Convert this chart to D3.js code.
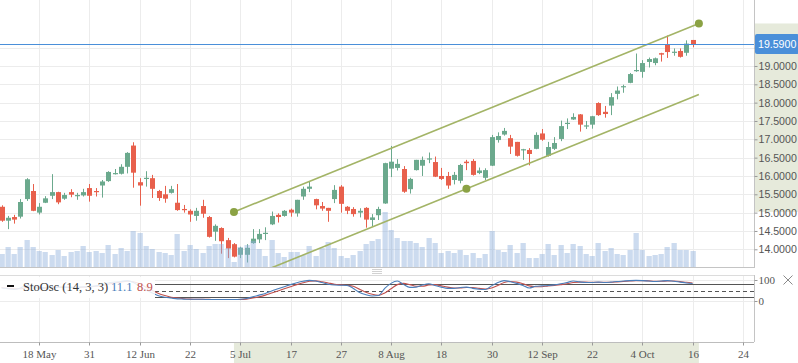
<!DOCTYPE html>
<html>
<head>
<meta charset="utf-8">
<script src="https://cdnjs.cloudflare.com/ajax/libs/d3/7.8.5/d3.min.js"></script>
<style>
  html, body { margin: 0; padding: 0; background: #fff; overflow: hidden; }
  .axis text { fill: #555; }
  .axis line { stroke: #999; }
</style>
</head>
<body>
<svg id="chart" width="798" height="363"></svg>
<script>
// OHLC per trading day (index 0 = first visible bar)
const opens  = [15.16,14.78,14.88,14.89,15.37,15.59,15.00,15.27,15.46,15.56,15.38,15.56,15.45,15.47,15.67,15.59,15.74,15.86,16.05,16.06,
                16.25,16.83,15.83,15.93,15.94,15.59,15.50,15.54,15.27,15.10,15.05,14.91,15.18,14.88,14.48,14.58,14.25,14.14,13.85,13.85,
                14.17,14.27,14.43,14.68,14.94,14.91,15.08,14.98,15.44,15.65,15.37,15.18,15.13,15.37,15.71,15.16,15.10,15.00,15.13,14.80,
                14.93,15.25,16.20,16.22,16.19,15.64,16.16,16.28,16.46,16.38,16.00,16.00,15.89,15.87,16.39,16.41,16.08,15.95,16.28,16.98,
                17.13,17.03,16.93,16.71,16.71,16.74,17.16,16.55,16.74,17.01,17.43,17.54,17.68,17.36,17.40,17.99,17.75,17.92,18.24,18.44,
                18.54,18.86,18.84,19.11,19.08,19.35,19.60,19.36,19.41,19.36,19.71];
const highs  = [15.20,14.91,14.94,15.37,15.94,15.78,15.26,15.45,16.05,15.57,15.54,15.64,15.54,15.65,15.78,15.67,15.89,16.13,16.19,16.32,
                16.65,16.92,15.94,16.13,16.03,15.62,15.73,15.73,15.78,15.21,15.09,15.13,15.35,14.91,14.68,14.60,14.31,14.17,14.07,14.14,
                14.55,14.55,14.60,15.03,14.98,15.07,15.11,15.35,15.71,15.85,15.38,15.29,15.13,15.75,15.75,15.18,15.15,15.12,15.15,14.96,
                15.16,16.36,16.82,16.46,16.27,15.95,16.44,16.53,16.64,16.53,16.22,16.11,16.11,16.33,16.44,16.46,16.23,16.21,17.12,17.19,
                17.31,17.12,16.93,16.74,16.76,17.19,17.28,16.93,17.06,17.51,17.57,17.71,17.69,17.50,17.64,18.01,17.91,18.26,18.44,18.49,
                18.81,19.34,19.16,19.23,19.23,19.36,19.83,19.48,19.48,19.70,19.71];
const lows   = [14.75,14.55,14.70,14.84,15.32,15.04,14.95,15.26,15.37,15.23,15.35,15.42,15.35,15.44,15.30,15.44,15.41,15.84,16.04,16.04,
                16.07,15.68,15.19,15.71,15.40,15.32,15.27,15.52,15.05,15.00,14.75,14.78,14.86,14.32,14.23,13.88,13.76,13.78,13.76,13.64,
                14.15,14.17,14.25,14.66,14.73,14.89,14.89,14.89,15.35,15.56,15.09,15.05,14.75,15.26,15.00,14.96,14.89,14.87,14.59,14.63,
                14.80,15.24,15.97,16.15,15.54,15.52,16.15,16.00,16.35,15.97,15.89,15.65,15.77,15.80,16.16,16.01,16.05,15.89,16.27,16.91,
                17.10,16.60,16.53,16.44,16.29,16.73,16.96,16.53,16.71,16.95,17.28,17.53,17.21,17.28,17.29,17.64,17.59,17.66,18.09,18.27,
                18.53,18.84,18.68,18.96,19.02,19.12,19.22,19.28,19.23,19.28,19.51];
const closes = [14.78,14.86,14.81,15.29,15.91,15.05,15.16,15.39,15.56,15.28,15.48,15.49,15.48,15.56,15.46,15.57,15.85,16.11,16.08,16.25,
                16.63,16.09,15.74,15.95,15.65,15.40,15.38,15.64,15.07,15.08,14.95,15.05,14.97,14.34,14.64,14.22,14.02,13.80,14.04,14.04,
                14.29,14.42,14.45,14.91,14.88,15.05,15.00,15.35,15.65,15.71,15.20,15.11,15.05,15.62,15.24,15.05,14.96,15.05,14.81,14.87,
                15.10,16.35,16.39,16.33,15.57,15.92,16.44,16.44,16.48,15.98,15.92,15.74,16.03,16.30,16.35,16.03,16.15,16.16,17.06,17.09,
                17.23,16.80,16.55,16.73,16.60,17.12,16.99,16.79,16.90,17.36,17.45,17.61,17.40,17.38,17.63,17.66,17.69,18.15,18.33,18.45,
                18.78,18.89,19.08,19.19,19.21,19.31,19.38,19.39,19.25,19.61,19.59];
// volume, thousands
const volumes = [13,20,13,20,27,20,16,15,12,17,11,15,16,21,15,16,14,22,13,19,
                 16,36,34,21,18,15,14,12,33,16,22,18,14,21,23,23,19,5,20,22,
                 26,18,11,27,14,10,15,15,12,21,11,19,25,19,11,9,12,16,23,26,
                 28,55,37,29,26,26,24,20,29,24,14,16,14,17,12,14,9,13,36,17,
                 15,22,14,24,9,9,13,23,12,22,14,23,21,13,11,24,16,19,13,12,
                 17,34,17,11,12,13,20,24,17,17,16];

// StoOsc (14, 3, 3)
const stochK = [62,58,55,62,75,70,60,62,68,65,66,64,65,68,70,72,78,86,90,93,
                97,88,68,52,38,25,18,14,10,9,8,8,8,7,7,7,7,7,8,12,
                20,28,36,48,58,68,78,87,94,98,95,88,80,76,75,74,60,40,30,24,
                26,60,84,95,78,65,66,76,82,74,66,60,60,64,66,60,56,55,72,88,
                97,92,84,74,62,70,72,74,77,82,88,95,91,88,88,90,88,90,93,95,
                97,98,97,95,93,95,97,94,90,86,83];
const stochD = [64,60,58,58,66,70,66,62,64,66,66,65,65,66,68,70,74,80,86,90,
                94,92,82,66,50,36,26,18,14,11,9,8,8,8,7,7,7,7,7,9,
                14,20,28,38,48,58,68,78,87,94,96,92,86,80,77,75,70,56,42,32,
                27,38,58,78,84,78,70,70,76,78,72,66,62,62,64,64,60,57,62,74,
                88,93,90,82,72,68,68,72,74,78,82,88,90,90,89,89,89,89,91,93,
                95,97,97,96,94,94,95,95,93,89,86];
const oscLevels = [80, 50, 20];

// axis labels
const dateTicks  = [6, 14, 22, 30, 38, 46, 54, 62, 70, 78, 86, 94, 102, 110, 118];
const dateLabels = ['18 May', '31', '12 Jun', '22', '5 Jul', '17', '27', '8 Aug', '18', '30', '12 Sep', '22', '4 Oct', '16', '24'];
const priceTicks = [14, 14.5, 15, 15.5, 16, 16.5, 17, 17.5, 18, 18.5, 19, 19.5];
const lastPrice = 19.59;

// parallel channel anchors: [bar index, price]
const channelPoints = [[37, 15.02], [111, 20.16], [74, 15.65]];

const UP_COLOR = '#6ba98d';
const DOWN_COLOR = '#e8604c';
const CHANNEL_COLOR = '#a3b466';
const BAND_COLOR = '#e6eadb';

const W = 798, H = 363;
const PLOT_R = 754;
const MAIN_B = 268;
const OSC_T = 275, OSC_B = 342;

const svg = d3.select('#chart');

const x = d3.scaleLinear().domain([0, 110]).range([1.5, 692.6]);
const y = d3.scaleLinear().domain([13.49, 20.8]).range([MAIN_B, 0]);
const yVol = d3.scaleLinear().domain([0, 55]).range([267, 212]);
const yOsc = d3.scaleLinear().domain([0, 100]).range([301, 280]);

const defs = svg.append('defs');
defs.append('clipPath').attr('id', 'clipMain')
  .append('rect').attr('x', 0).attr('y', 0).attr('width', PLOT_R).attr('height', MAIN_B);
defs.append('clipPath').attr('id', 'clipOsc')
  .append('rect').attr('x', 0).attr('y', OSC_T).attr('width', PLOT_R).attr('height', OSC_B - OSC_T);

// highlight bands for the selected drawing
const chPrices = channelPoints.map((d) => d[1]);
const chIdx = channelPoints.map((d) => d[0]);
svg.append('rect')
  .attr('x', PLOT_R + 1).attr('y', y(d3.max(chPrices)))
  .attr('width', W - PLOT_R - 1).attr('height', y(d3.min(chPrices)) - y(d3.max(chPrices)))
  .attr('fill', BAND_COLOR);
svg.append('rect')
  .attr('x', x(d3.min(chIdx))).attr('y', OSC_B + 1)
  .attr('width', x(d3.max(chIdx)) - x(d3.min(chIdx))).attr('height', H - OSC_B - 1)
  .attr('fill', BAND_COLOR);

// grid
const grid = svg.append('g').attr('stroke', '#ececec').attr('stroke-width', 1);
dateTicks.forEach((t) => {
  const gx = Math.round(x(t)) + 0.5;
  grid.append('line').attr('x1', gx).attr('x2', gx).attr('y1', 0).attr('y2', MAIN_B);
  grid.append('line').attr('x1', gx).attr('x2', gx).attr('y1', OSC_T).attr('y2', OSC_B);
});
priceTicks.forEach((p) => {
  const gy = Math.round(y(p)) + 0.5;
  grid.append('line').attr('x1', 0).attr('x2', PLOT_R).attr('y1', gy).attr('y2', gy);
});
[0, 100].forEach((v) => {
  const gy = Math.round(yOsc(v)) + 0.5;
  grid.append('line').attr('x1', 0).attr('x2', PLOT_R).attr('y1', gy).attr('y2', gy);
});

// candles
const bars = d3.range(opens.length).map((i) => ({
  i, o: opens[i], h: highs[i], l: lows[i], c: closes[i], v: volumes[i]
}));
const main = svg.append('g').attr('clip-path', 'url(#clipMain)');
const candle = main.append('g').selectAll('g').data(bars).join('g')
  .attr('fill', (d) => (d.c >= d.o ? UP_COLOR : DOWN_COLOR))
  .attr('stroke', (d) => (d.c >= d.o ? UP_COLOR : DOWN_COLOR));
candle.append('line')
  .attr('x1', (d) => Math.round(x(d.i)) + 0.5).attr('x2', (d) => Math.round(x(d.i)) + 0.5)
  .attr('y1', (d) => y(d.h)).attr('y2', (d) => y(d.l))
  .attr('stroke-width', 1);
candle.append('rect')
  .attr('stroke', 'none')
  .attr('x', (d) => Math.round(x(d.i)) - 2)
  .attr('width', 5)
  .attr('y', (d) => y(Math.max(d.o, d.c)))
  .attr('height', (d) => Math.max(1.2, Math.abs(y(d.o) - y(d.c))));

// volume
main.append('g').selectAll('rect').data(bars).join('rect')
  .attr('x', (d) => Math.round(x(d.i)) - 2.5)
  .attr('width', 5.3)
  .attr('y', (d) => yVol(d.v))
  .attr('height', (d) => yVol(0) - yVol(d.v))
  .attr('fill', '#8fb0dc')
  .attr('fill-opacity', 0.45);

// last price line
const lpY = Math.round(y(lastPrice)) + 0.5;
svg.append('line').attr('x1', 0).attr('x2', PLOT_R).attr('y1', lpY).attr('y2', lpY)
  .attr('stroke', '#4a8fd9').attr('stroke-width', 1.2);

// channel
const [a, b, c] = channelPoints;
const slope = (b[1] - a[1]) / (b[0] - a[0]);
const shift = c[1] - (a[1] + slope * (c[0] - a[0]));
const chG = main.append('g');
[[a, b], [[a[0], a[1] + shift], [b[0], b[1] + shift]]].forEach(([p, q]) => {
  chG.append('line')
    .attr('x1', x(p[0])).attr('y1', y(p[1])).attr('x2', x(q[0])).attr('y2', y(q[1]))
    .attr('stroke', CHANNEL_COLOR).attr('stroke-width', 1.6);
});
svg.append('g').selectAll('circle').data(channelPoints).join('circle')
  .attr('cx', (d) => x(d[0])).attr('cy', (d) => y(d[1])).attr('r', 4)
  .attr('fill', '#8ba244');

// pane borders
svg.append('line').attr('x1', 0).attr('x2', PLOT_R).attr('y1', MAIN_B - 0.5).attr('y2', MAIN_B - 0.5)
  .attr('stroke', '#c4c4c4');
svg.append('line').attr('x1', 0).attr('x2', PLOT_R).attr('y1', OSC_T + 0.5).attr('y2', OSC_T + 0.5)
  .attr('stroke', '#dcdcdc');
svg.append('line').attr('x1', 0).attr('x2', PLOT_R).attr('y1', OSC_B + 0.5).attr('y2', OSC_B + 0.5)
  .attr('stroke', '#bdbdbd');
svg.append('line').attr('x1', PLOT_R + 0.5).attr('x2', PLOT_R + 0.5).attr('y1', 0).attr('y2', MAIN_B)
  .attr('stroke', '#c4c4c4');
svg.append('line').attr('x1', PLOT_R + 0.5).attr('x2', PLOT_R + 0.5).attr('y1', OSC_T).attr('y2', OSC_B)
  .attr('stroke', '#c4c4c4');

// resize handle between panes
[269.5, 271.5, 273.5].forEach((hy) => {
  svg.append('line').attr('x1', 372).attr('x2', 382).attr('y1', hy).attr('y2', hy)
    .attr('stroke', '#d2d2d2');
});

// oscillator
const osc = svg.append('g').attr('clip-path', 'url(#clipOsc)');
const legendRight = 155;
oscLevels.forEach((lv) => {
  const ly = Math.round(yOsc(lv)) + 0.5;
  osc.append('line').attr('x1', legendRight).attr('x2', PLOT_R).attr('y1', ly).attr('y2', ly)
    .attr('stroke', '#555').attr('stroke-width', 1)
    .attr('stroke-dasharray', lv === 50 ? '4,3' : null);
});
const oscLine = (vals) => d3.line()
  .x((d, i) => x(i))
  .y((d) => yOsc(d))
  .curve(d3.curveMonotoneX)(vals);
osc.append('path').attr('d', oscLine(stochD)).attr('fill', 'none')
  .attr('stroke', '#c0504d').attr('stroke-width', 1.1);
osc.append('path').attr('d', oscLine(stochK)).attr('fill', 'none')
  .attr('stroke', '#4a7ebb').attr('stroke-width', 1.1);

// legend
svg.append('rect').attr('x', 0).attr('y', 277).attr('width', legendRight).attr('height', 21)
  .attr('fill', '#fff').attr('fill-opacity', 0.86);
svg.append('rect').attr('x', 7).attr('y', 285).attr('width', 7).attr('height', 2).attr('fill', '#111');
const lg = svg.append('text').attr('x', 23).attr('y', 291)
  .style('font-family', '"Liberation Serif", "Times New Roman", serif').style('font-size', '12.5px');
lg.append('tspan').attr('fill', '#333').text('StoOsc (14, 3, 3)');
lg.append('tspan').attr('x', 111).attr('fill', '#4a7ebb').text('11.1');
lg.append('tspan').attr('x', 137).attr('fill', '#c0504d').text('8.9');

// close icon
svg.append('path').attr('d', 'M783.5,275.5 L792.5,284.5 M792.5,275.5 L783.5,284.5')
  .attr('stroke', '#8a8a8a').attr('stroke-width', 1).attr('fill', 'none');

// price axis (the 19.5 label sits under the current price tag, so it is not printed)
const priceAxis = svg.append('g').attr('class', 'axis')
  .attr('transform', `translate(${PLOT_R + 0.5},0)`)
  .call(d3.axisRight(y).tickValues(priceTicks)
    .tickFormat((d) => (Math.abs(d - lastPrice) < 0.2 ? '' : d3.format('.4f')(d)))
    .tickSize(3).tickPadding(1));
priceAxis.select('.domain').remove();
priceAxis.selectAll('text')
  .style('font-family', '"Liberation Sans", Arial, sans-serif').style('font-size', '10.6px');

// oscillator axis
const oscAxis = svg.append('g').attr('class', 'axis')
  .attr('transform', `translate(${PLOT_R + 0.5},0)`)
  .call(d3.axisRight(yOsc).tickValues([0, 100]).tickSize(3).tickPadding(1));
oscAxis.select('.domain').remove();
oscAxis.selectAll('text')
  .style('font-family', '"Liberation Serif", "Times New Roman", serif').style('font-size', '11px');

// date axis
const dateAxis = svg.append('g').attr('class', 'axis')
  .attr('transform', `translate(0,${OSC_B + 0.5})`)
  .call(d3.axisBottom(x).tickValues(dateTicks).tickFormat((d, i) => dateLabels[i]).tickSize(3).tickPadding(5));
dateAxis.select('.domain').remove();
dateAxis.selectAll('.tick').attr('transform', (d) => `translate(${Math.round(x(d)) + 0.5},0)`);
dateAxis.selectAll('text')
  .style('font-family', '"Liberation Serif", "Times New Roman", serif').style('font-size', '11px');

// current price tag
svg.append('rect').attr('x', PLOT_R + 1).attr('y', Math.round(y(lastPrice)) - 10)
  .attr('width', W - PLOT_R).attr('height', 20).attr('rx', 2)
  .attr('fill', '#4a8fd9');
svg.append('text').attr('x', PLOT_R + 4).attr('y', Math.round(y(lastPrice)) + 4)
  .attr('fill', '#fff')
  .style('font-family', '"Liberation Sans", Arial, sans-serif').style('font-size', '10.6px')
  .text(d3.format('.4f')(lastPrice));
</script>
</body>
</html>
